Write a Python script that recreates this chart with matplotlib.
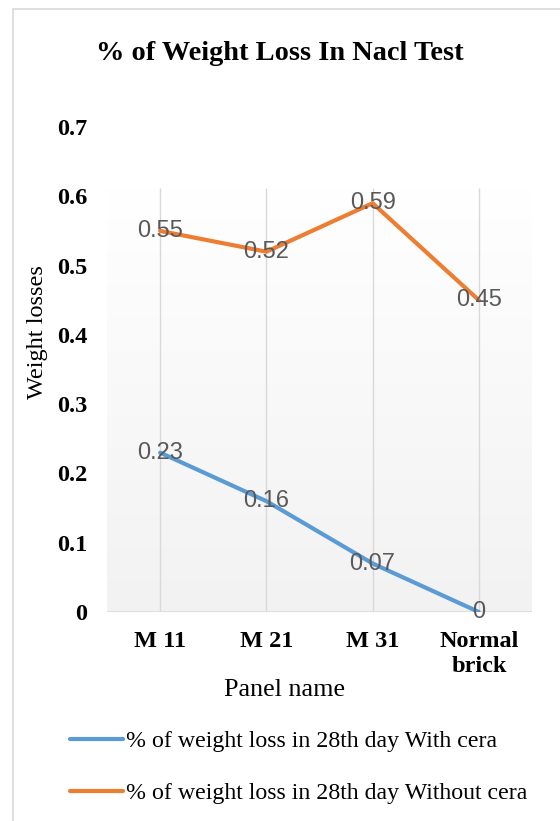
import numpy as np
import matplotlib
matplotlib.use("Agg")
import matplotlib.pyplot as plt
from matplotlib.patches import Rectangle

# chart data
panels = ["M 11", "M 21", "M 31", "Normal\nbrick"]
with_cera = [0.23, 0.16, 0.07, 0]
without_cera = [0.55, 0.52, 0.59, 0.45]
yticks = [0, 0.1, 0.2, 0.3, 0.4, 0.5, 0.6, 0.7]
series_names = ["% of weight loss in 28th day With cera",
                "% of weight loss in 28th day Without cera"]

serif = "Liberation Serif"
blue = "#5B9BD5"
orange = "#ED7D31"

fig = plt.figure(figsize=(5.6, 8.21), dpi=100)
W, H = 560, 821

# outer chart border (light gray)
fig.patches.append(Rectangle((13 / W, -0.1), 1.2, 1 - 9 / H + 0.1, transform=fig.transFigure,
                             fill=False, edgecolor="#D9D9D9", lw=1.2, zorder=0))

ax = fig.add_axes([107 / W, 1 - 612 / H, (532 - 107) / W, (612 - 127) / H])
x = np.arange(len(panels))
ax.set_xlim(-0.5, len(panels) - 0.5)
ax.set_ylim(0, 0.7)

# plot area gradient (white -> light gray), only up to the plot area top
top = (612 - 188) / (612 - 127) * 0.7
grad = np.linspace(0, 1, 256).reshape(-1, 1)
cmap = matplotlib.colors.LinearSegmentedColormap.from_list("g", ["#F2F2F2", "#FFFFFF"])
ax.imshow(grad, extent=[-0.5, len(panels) - 0.5, 0, top], origin="lower",
          aspect="auto", cmap=cmap, zorder=0)

ax.vlines(x, 0, top, color="#D9D9D9", lw=1, zorder=1)
ax.hlines(0, -0.5, len(panels) - 0.5, color="#D9D9D9", lw=1.2, zorder=1)

l1, = ax.plot(x, with_cera, color=blue, lw=3, solid_capstyle="round", zorder=3)
l2, = ax.plot(x, without_cera, color=orange, lw=3, solid_capstyle="round", zorder=3)

for xi, v in zip(x, with_cera):
    ax.text(xi, v, f"{v:g}", ha="center", va="center", color="#595959",
            fontsize=17, family="Liberation Sans", zorder=4)
for xi, v in zip(x, without_cera):
    ax.text(xi, v, f"{v:g}", ha="center", va="center", color="#595959",
            fontsize=17, family="Liberation Sans", zorder=4)

for s in ax.spines.values():
    s.set_visible(False)
ax.set_xticks(x)
ax.set_xticklabels(panels, fontsize=17.5, fontweight="bold", family=serif, linespacing=1.25)
ax.set_yticks(yticks)
ax.set_yticklabels([f"{t:g}" for t in yticks], fontsize=17.5, fontweight="bold", family=serif)
ax.tick_params(axis="both", length=0)
ax.tick_params(axis="y", pad=14.4)
ax.tick_params(axis="x", pad=14)

fig.text(280 / W, 1 - 53 / H, "% of Weight Loss In Nacl Test", ha="center", va="center",
         fontsize=20.4, fontweight="bold", family=serif)
fig.text(284 / W, 1 - 690 / H, "Panel name", ha="center", va="center",
         fontsize=18.8, family=serif)
fig.text(37 / W, 1 - 332 / H, "Weight losses", ha="center", va="center",
         rotation=90, fontsize=17.5, family=serif)

fig.legend([l1, l2], series_names, loc="upper left", bbox_to_anchor=(60 / W, 1 - 721 / H),
           frameon=False, prop={"family": serif, "size": 17.2}, handlelength=2.25,
           handletextpad=0.1, labelspacing=1.26, borderaxespad=0)

fig.savefig("out.png", dpi=100)
